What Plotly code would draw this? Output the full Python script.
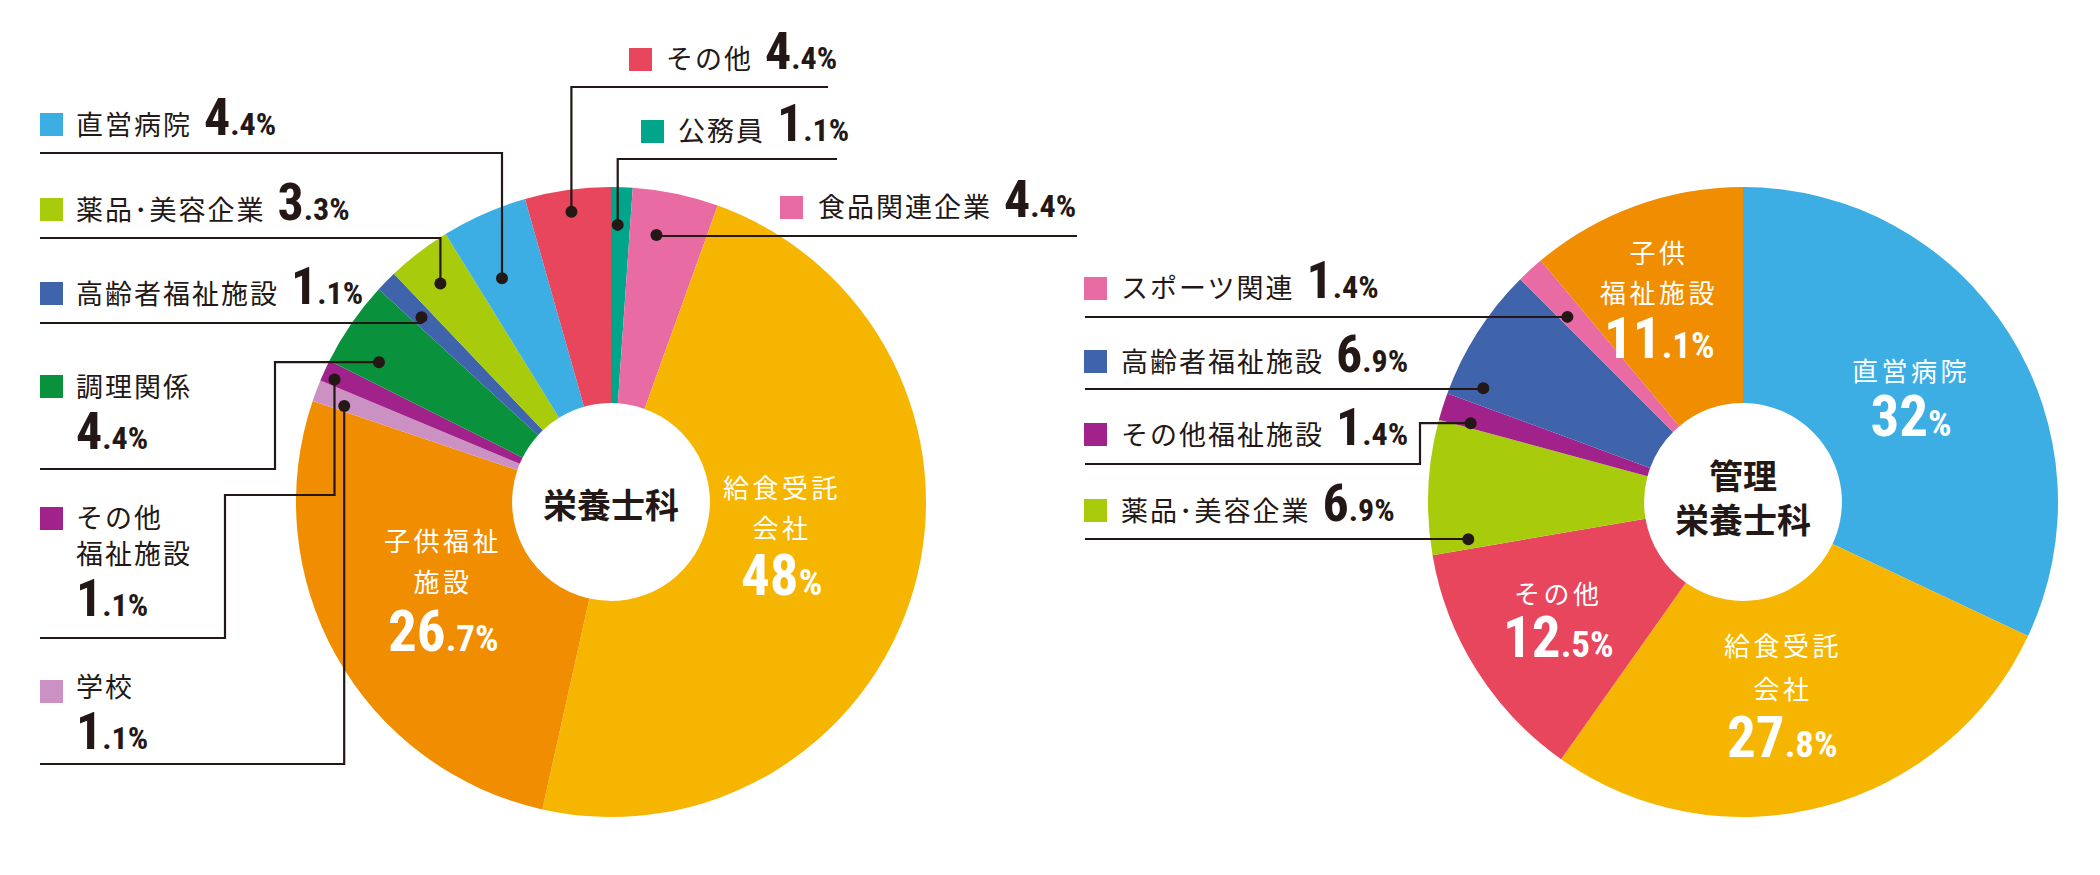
import math
import plotly.graph_objects as go

W, H = 2100, 875
INK = "#231815"
FONT = "Noto Sans CJK JP, sans-serif"
NUMF = "Roboto Condensed, DejaVu Sans, Roboto"

# ---------------- data ----------------
# 栄養士科 (clockwise from 12 o'clock)
ns_labels = ["公務員", "食品関連企業", "給食受託会社", "子供福祉施設", "学校", "その他福祉施設",
             "調理関係", "高齢者福祉施設", "薬品・美容企業", "直営病院", "その他"]
ns_values = [1.1, 4.4, 48, 26.7, 1.1, 1.1, 4.4, 1.1, 3.3, 4.4, 4.4]

# 管理栄養士科 (clockwise from 12 o'clock)
kn_labels = ["直営病院", "給食受託会社", "その他", "薬品・美容企業", "その他福祉施設",
             "高齢者福祉施設", "スポーツ関連", "子供福祉施設"]
kn_values = [32, 27.8, 12.5, 6.9, 1.4, 6.9, 1.4, 11.1]

ns_title = "栄養士科"
kn_title = ["管理", "栄養士科"]

# ---------------- styles ----------------
colors = {
    "直営病院": "#3DAEE4", "給食受託会社": "#F6B500", "子供福祉施設": "#F08D00",
    "その他": "#E8465D", "公務員": "#00A58A", "食品関連企業": "#E96BA3",
    "スポーツ関連": "#E96BA3", "学校": "#CB91C2", "その他福祉施設": "#A1228B",
    "調理関係": "#0A913C", "高齢者福祉施設": "#3F64AC", "薬品・美容企業": "#A8CC0C",
}

R = 315
HOLE = 0.314
ns_c = (611, 502)
kn_c = (1743, 502)


def dom(c):
    return dict(x=[(c[0] - R) / W, (c[0] + R) / W],
                y=[(H - c[1] - R) / H, (H - c[1] + R) / H])


def angles(values):
    tot = sum(values)
    acc, out = 0.0, []
    for v in values:
        out.append((acc / tot * 360, (acc + v) / tot * 360))
        acc += v
    return out


def polar(c, r, th):
    a = math.radians(th)
    return c[0] + r * math.sin(a), c[1] - r * math.cos(a)


def point(labels, values, c, name, t, rf):
    a0, a1 = angles(values)[labels.index(name)]
    return polar(c, rf * R, a0 + t * (a1 - a0))


def num(v, big, small, lead=""):
    s = f"{v:g}"
    ip, dp = (s.split(".") + [""])[:2]
    dp = "." + dp if dp else ""
    st = f"font-family:{NUMF};font-stretch:condensed;font-weight:bold"
    return (f'<span style="{st};font-size:{big}px">{lead}{ip}</span>'
            f'<span style="{st};font-size:{small}px">{dp}%</span>')


def jp(text, size, ls):
    text = text.replace("・", "･")  # narrow middle dot as in the original typesetting
    return f'<span style="font-size:{size}px;letter-spacing:{ls}px">{text}</span>'


def val(labels, values, name):
    return values[labels.index(name)]


fig = go.Figure()
for labels, values, c in [(ns_labels, ns_values, ns_c), (kn_labels, kn_values, kn_c)]:
    fig.add_trace(go.Pie(
        labels=labels, values=values, sort=False, direction="clockwise", rotation=0,
        hole=HOLE, domain=dom(c), textinfo="none", hoverinfo="label+percent",
        marker=dict(colors=[colors[l] for l in labels], line=dict(width=0)),
        showlegend=False,
    ))

# invisible anchor trace for the pixel-space overlay axes
fig.add_trace(go.Scatter(x=[ns_c[0], kn_c[0]], y=[ns_c[1], kn_c[1]], mode="markers",
                         marker=dict(opacity=0), hoverinfo="skip", showlegend=False))

shapes, annos = [], []

# ---------------- leaders ----------------
ns_leaders = {
    "直営病院": (0.36, 0.79, [("v", 153), ("h", 40)]),
    "薬品・美容企業": (0.47, 0.88, [("v", 238), ("h", 40)]),
    "高齢者福祉施設": (0.45, 0.84, [("v", 323), ("h", 40)]),
    "調理関係": (0.28, 0.86, [("h", 275), ("v", 469), ("h", 40)]),
    "その他福祉施設": (0.31, 0.96, [("v", 495), ("h", 225), ("v", 638), ("h", 40)]),
    "学校": (0.27, 0.90, [("v", 764), ("h", 40)]),
    "その他": (0.51, 0.93, [("v", 87), ("h", 828)]),
    "公務員": (0.35, 0.88, [("v", 159), ("h", 837)]),
    "食品関連企業": (0.36, 0.86, [("v", 236), ("h", 1077)]),
}
kn_leaders = {
    "スポーツ関連": (0.3, 0.81, [("v", 317), ("h", 1085)]),
    "高齢者福祉施設": (0.14, 0.90, [("v", 389), ("h", 1085)]),
    "その他福祉施設": (0.2, 0.90, [("h", 1420), ("v", 464), ("h", 1085)]),
    "薬品・美容企業": (0.08, 0.88, [("v", 539), ("h", 1085)]),
}

for labels, values, c, leaders in [(ns_labels, ns_values, ns_c, ns_leaders),
                                   (kn_labels, kn_values, kn_c, kn_leaders)]:
    for name, (t, rf, moves) in leaders.items():
        x, y = point(labels, values, c, name, t, rf)
        path = f"M {x:.1f} {y:.1f}"
        for kind, v in moves:
            if kind == "v":
                y = v
            else:
                x = v
            path += f" L {x:.1f} {y:.1f}"
        shapes.append(dict(type="path", path=path, xref="x", yref="y", layer="above",
                           line=dict(color=INK, width=2.2)))
        dx, dy = point(labels, values, c, name, t, rf)
        shapes.append(dict(type="circle", xref="x", yref="y", layer="above",
                           x0=dx - 6, x1=dx + 6, y0=dy - 6, y1=dy + 6,
                           fillcolor=INK, line=dict(width=0)))

# ---------------- outside labels ----------------
JP, LS = 27, 2
BIG, SMALL = 52, 32
SQ = 23


def one(text, v):
    return jp(text, JP, LS) + num(v, BIG, SMALL, lead=" ")


def nm(v):
    return num(v, BIG, SMALL)


# (name, square(x, y), [(x, y, html, base font size)])
ns_out = [
    ("直営病院", (40, 113), [(74, 117, one("直営病院", 4.4), JP)]),
    ("薬品・美容企業", (40, 198), [(74, 202, one("薬品・美容企業", 3.3), JP)]),
    ("高齢者福祉施設", (40, 282), [(74, 286, one("高齢者福祉施設", 1.1), JP)]),
    ("調理関係", (40, 375), [(74, 413.5, jp("調理関係", JP, LS) + "<br>" + nm(4.4), 40.0)]),
    ("その他福祉施設", (40, 507), [(74, 534.5, jp("その他", JP, LS) + "<br>" + jp("福祉施設", JP, LS), 27.7),
                              (74, 598, nm(1.1), JP)]),
    ("学校", (40, 680), [(74, 714, jp("学校", JP, LS) + "<br>" + nm(1.1), 40.2)]),
    ("その他", (629, 48), [(664, 51, one("その他", 4.4), JP)]),
    ("公務員", (641, 120), [(676, 123, one("公務員", 1.1), JP)]),
    ("食品関連企業", (780, 196), [(816, 199, one("食品関連企業", 4.4), JP)]),
]
kn_out = [
    ("スポーツ関連", (1084, 277), [(1119, 280, one("スポーツ関連", 1.4), JP)]),
    ("高齢者福祉施設", (1084, 350), [(1119, 354, one("高齢者福祉施設", 6.9), JP)]),
    ("その他福祉施設", (1084, 423), [(1119, 427, one("その他福祉施設", 1.4), JP)]),
    ("薬品・美容企業", (1084, 499), [(1119, 503, one("薬品・美容企業", 6.9), JP)]),
]

for labels, values, items in [(ns_labels, ns_values, ns_out), (kn_labels, kn_values, kn_out)]:
    for name, (sx, sy), lines in items:
        shapes.append(dict(type="rect", xref="x", yref="y", layer="above",
                           x0=sx, x1=sx + SQ, y0=sy, y1=sy + SQ,
                           fillcolor=colors[name], line=dict(width=0)))
        for (lx, ly, html, base) in lines:
            annos.append(dict(x=lx, y=ly, xref="x", yref="y", text=html, showarrow=False,
                              xanchor="left", yanchor="middle", align="left",
                              font=dict(family=FONT, color=INK, size=base)))

# ---------------- inside labels ----------------
IBIG, ISMALL, IJP, ILS = 57, 37, 26, 3.5


def ij(t):
    return jp(t, IJP, ILS)


def inum(v):
    return num(v, IBIG, ISMALL)


# (name, t, rf, [(dy, html, base font size)])
ns_in = [
    ("給食受託会社", 0.46, 0.55, [(-23.5, ij("給食受託") + "<br>" + ij("会社"), 30.8),
                              (45.8, inum(val(ns_labels, ns_values, "給食受託会社")), IJP)]),
    ("子供福祉施設", 0.52, 0.60, [(-29, ij("子供福祉") + "<br>" + ij("施設"), 31.5),
                              (42, inum(val(ns_labels, ns_values, "子供福祉施設")), IJP)]),
]
kn_in = [
    ("直営病院", 0.5, 0.63, [(5.3, ij("直営病院") + "<br>" + inum(val(kn_labels, kn_values, "直営病院")), 42.2)]),
    ("給食受託会社", 0.53, 0.62, [(-27, ij("給食受託") + "<br>" + ij("会社"), 33.1),
                              (43.8, inum(val(kn_labels, kn_values, "給食受託会社")), IJP)]),
    ("その他", 0.51, 0.69, [(6.5, ij("その他") + "<br>" + inum(val(kn_labels, kn_values, "その他")), 41.0)]),
    ("子供福祉施設", 0.45, 0.71, [(-23.5, ij("子供") + "<br>" + ij("福祉施設"), 30.8),
                              (44, inum(val(kn_labels, kn_values, "子供福祉施設")), IJP)]),
]
for labels, values, c, items in [(ns_labels, ns_values, ns_c, ns_in), (kn_labels, kn_values, kn_c, kn_in)]:
    for name, t, rf, lines in items:
        ax, ay = point(labels, values, c, name, t, rf)
        for dy, html, base in lines:
            annos.append(dict(x=ax, y=ay + dy, xref="x", yref="y", text=html, showarrow=False,
                              xanchor="center", yanchor="middle", align="center",
                              font=dict(family=FONT, color="white", size=base)))

# ---------------- centre titles ----------------
CFONT = "Noto Sans CJK JP"
annos.append(dict(x=ns_c[0], y=ns_c[1] + 1, xref="x", yref="y", text=f"<b>{ns_title}</b>",
                  showarrow=False, xanchor="center", yanchor="middle",
                  font=dict(family=CFONT, size=34, color=INK)))
annos.append(dict(x=kn_c[0], y=kn_c[1] - 6, xref="x", yref="y",
                  text="<b>" + "<br>".join(kn_title) + "</b>",
                  showarrow=False, xanchor="center", yanchor="middle", align="center",
                  font=dict(family=CFONT, size=34, color=INK)))

fig.update_layout(
    width=W, height=H, margin=dict(l=0, r=0, t=0, b=0),
    paper_bgcolor="white", plot_bgcolor="rgba(0,0,0,0)",
    xaxis=dict(range=[0, W], visible=False, fixedrange=True),
    yaxis=dict(range=[H, 0], visible=False, fixedrange=True),
    shapes=shapes, annotations=annos, showlegend=False,
)
fig.write_html("out.html")
